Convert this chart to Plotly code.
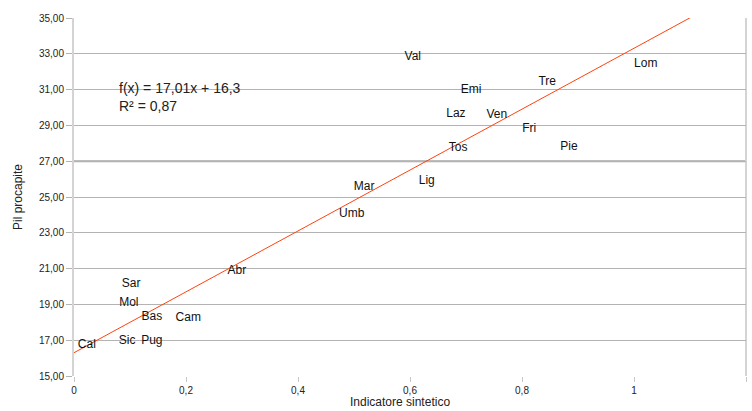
import plotly.graph_objects as go

# Regional data: composite indicator vs per-capita GDP
regions = ["Val", "Emi", "Laz", "Ven", "Tos", "Lig", "Mar", "Tre", "Lom", "Fri",
           "Pie", "Umb", "Sar", "Mol", "Bas", "Cam", "Abr", "Cal", "Sic", "Pug"]
indicatore = [0.605, 0.709, 0.682, 0.755, 0.686, 0.630, 0.518, 0.845, 1.021, 0.813,
              0.884, 0.496, 0.102, 0.098, 0.139, 0.204, 0.291, 0.023, 0.095, 0.139]
pil = [32.82, 30.98, 29.64, 29.58, 27.74, 25.89, 25.56, 31.42, 32.43, 28.80,
       27.79, 24.05, 20.14, 19.08, 18.30, 18.24, 20.87, 16.73, 16.96, 16.96]

# Linear trend f(x) = 17,01x + 16,3
slope = 17.01
intercept = 16.3
r2 = 0.87
trend_x = [0.0, 1.2]
trend_y = [intercept + slope * x for x in trend_x]

x_ticks = [0, 0.2, 0.4, 0.6, 0.8, 1.0, 1.2]
x_ticktext = ["0", "0,2", "0,4", "0,6", "0,8", "1", "1,2"]
y_ticks = list(range(15, 36, 2))
y_ticktext = [f"{v},00" for v in y_ticks]
mean_line = 27

font = "Liberation Sans, Arial, sans-serif"

fig = go.Figure()

fig.add_trace(go.Scatter(
    x=trend_x, y=trend_y, mode="lines",
    line=dict(color="#ff420e", width=1),
    hoverinfo="skip", showlegend=False,
))

fig.add_trace(go.Scatter(
    x=indicatore, y=pil, mode="text", text=regions,
    textposition="middle center",
    textfont=dict(family=font, size=12, color="#111111"),
    showlegend=False,
))

# Emphasised reference line
fig.add_shape(type="line", xref="paper", yref="y", x0=0, x1=1,
              y0=mean_line, y1=mean_line,
              line=dict(color="#a6a6a6", width=2), layer="below")

# Right frame border
fig.add_shape(type="line", xref="paper", yref="paper", x0=1, x1=1, y0=0, y1=1,
              line=dict(color="#d4d4d4", width=2), layer="below")

fig.add_annotation(
    xref="paper", yref="paper", x=(117 - 74) / 672, y=1 - (78 - 18) / 358,
    xanchor="left", yanchor="top", align="left", showarrow=False,
    text=f"f(x) = {slope:.2f}x + {intercept:.1f}".replace(".", ",")
         + "<br>" + f"R² = {r2:.2f}".replace(".", ","),
    font=dict(family=font, size=14, color="#222222"),
)

fig.add_annotation(
    xref="paper", yref="paper", x=(400 - 74) / 672, y=-(402 - 376) / 358,
    xanchor="center", yanchor="middle", showarrow=False,
    text="Indicatore sintetico",
    font=dict(family=font, size=12, color="#222222"),
)
fig.add_annotation(
    xref="paper", yref="paper", x=-(74 - 18) / 672, y=0.5,
    xanchor="center", yanchor="middle", showarrow=False, textangle=-90,
    text="Pil procapite",
    font=dict(family=font, size=12, color="#222222"),
)

fig.update_layout(
    width=752, height=411,
    margin=dict(l=74, r=6, t=18, b=35),
    paper_bgcolor="white", plot_bgcolor="white",
    font=dict(family=font, size=10, color="#222222"),
    xaxis=dict(
        range=[0, 1.2], tickvals=x_ticks, ticktext=x_ticktext,
        showgrid=False, zeroline=False,
        showline=False, ticks="outside", ticklen=5, tickcolor="#c8c8c8",
        tickfont=dict(family=font, size=10, color="#222222"),
    ),
    yaxis=dict(
        range=[15, 35], tickvals=y_ticks, ticktext=y_ticktext,
        showgrid=True, gridcolor="#b3b3b3", gridwidth=1, zeroline=False,
        showline=True, linecolor="#d4d4d4", linewidth=2,
        ticks="outside", ticklen=6, tickcolor="#b3b3b3",
        tickfont=dict(family=font, size=10, color="#222222"),
    ),
)

fig.write_html("out.html")
